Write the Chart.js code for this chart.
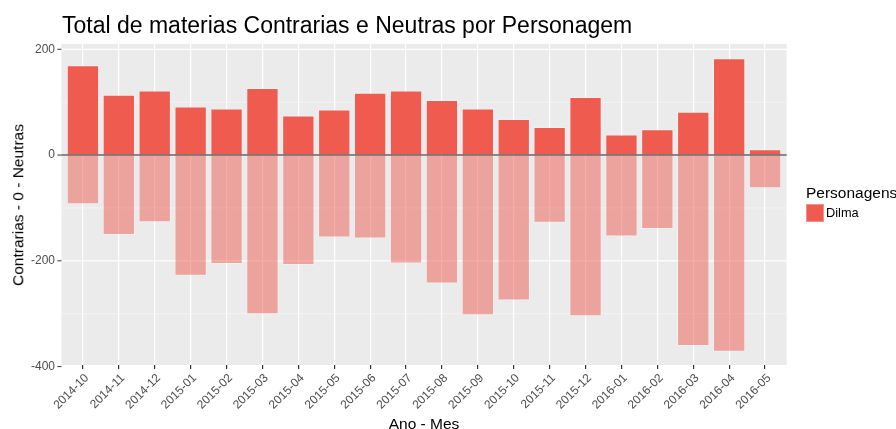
<!DOCTYPE html>
<html>
<head>
<meta charset="utf-8">
<script src="https://cdn.jsdelivr.net/npm/chart.js@4.4.0/dist/chart.umd.min.js"></script>
<style>
  body { margin: 0; background: #fff; font-family: "Liberation Sans", Arial, sans-serif; }
  #wrap { position: relative; width: 896px; height: 429px; overflow: hidden; }
  #grafico { position: absolute; left: 0; top: 0; }
  .titulo { position: absolute; left: 62px; top: 14px; font-size: 23px; line-height: 23px; color: #000; white-space: nowrap; }
  .eixo-y { position: absolute; left: 18px; top: 204.5px; font-size: 15.5px; line-height: 15.5px; color: #000; white-space: nowrap;
            transform: translate(-50%, -50%) rotate(-90deg); }
  .eixo-x { position: absolute; left: 424px; top: 416px; font-size: 15.5px; line-height: 15.5px; color: #000; white-space: nowrap;
            transform: translateX(-50%); }
  .leg-titulo { position: absolute; left: 806px; top: 185px; font-size: 15.5px; line-height: 15.5px; color: #000; white-space: nowrap; }
  .leg-cor { position: absolute; left: 806px; top: 204px; width: 16px; height: 16px; background: #F05B50; border: 0.5px solid #F39088; }
  .leg-texto { position: absolute; left: 826px; top: 207px; font-size: 12.8px; line-height: 12.8px; color: #000; white-space: nowrap; }
</style>
</head>
<body>
<div id="wrap">
  <canvas id="grafico" width="896" height="429"></canvas>
  <div class="titulo">Total de materias Contrarias e Neutras por Personagem</div>
  <div class="eixo-y">Contrarias - 0 - Neutras</div>
  <div class="eixo-x">Ano - Mes</div>
  <div class="leg-titulo">Personagens</div>
  <div class="leg-cor"></div>
  <div class="leg-texto">Dilma</div>
</div>
<script>
// dados
const meses = ['2014-10', '2014-11', '2014-12', '2015-01', '2015-02', '2015-03', '2015-04',
  '2015-05', '2015-06', '2015-07', '2015-08', '2015-09', '2015-10', '2015-11', '2015-12',
  '2016-01', '2016-02', '2016-03', '2016-04', '2016-05'];
const neutras = [170, 114, 122, 92, 88, 127, 75, 86, 118, 122, 104, 88, 68, 53, 110, 39, 49, 82, 183, 11];
const contrarias = [-93, -151, -127, -228, -206, -301, -208, -156, -158, -205, -243, -303, -275, -128, -305, -154, -140, -361, -372, -63];
const marcasY = [-400, -200, 0, 200];           // com rotulo
const gradeY = [-400, -300, -200, -100, 0, 100, 200]; // linhas de grade

// fundo cinza estilo ggplot + grades horizontais + linha do zero
const fundoPainel = {
  id: 'fundoPainel',
  beforeDraw(chart) {
    const { ctx, chartArea: a, scales } = chart;
    const ext = (a.right - a.left) / meses.length * 0.1;
    const esq = a.left - ext, dir = a.right + ext;
    ctx.save();
    ctx.fillStyle = '#EBEBEB';
    ctx.fillRect(esq, a.top, dir - esq, a.bottom - a.top);
    gradeY.forEach(v => {
      const y = scales.y.getPixelForValue(v);
      const principal = marcasY.includes(v);
      ctx.strokeStyle = principal ? '#FFFFFF' : 'rgba(255,255,255,0.7)';
      ctx.lineWidth = principal ? 1.2 : 0.6;
      ctx.beginPath();
      ctx.moveTo(esq, y);
      ctx.lineTo(dir, y);
      ctx.stroke();
      if (principal) {
        ctx.strokeStyle = '#333333';
        ctx.lineWidth = 1;
        ctx.beginPath();
        ctx.moveTo(esq - 4, y);
        ctx.lineTo(esq, y);
        ctx.stroke();
      }
    });
    ctx.restore();
  },
  afterDatasetsDraw(chart) {
    const { ctx, chartArea: a, scales } = chart;
    const ext = (a.right - a.left) / meses.length * 0.1;
    const y0 = scales.y.getPixelForValue(0);
    ctx.save();
    ctx.strokeStyle = 'rgba(0,0,0,0.6)';
    ctx.lineWidth = 1.6;
    ctx.beginPath();
    ctx.moveTo(a.left - ext, y0);
    ctx.lineTo(a.right + ext, y0);
    ctx.stroke();
    ctx.restore();
  }
};

new Chart(document.getElementById('grafico'), {
  type: 'bar',
  data: {
    labels: meses,
    datasets: [
      {
        label: 'Neutras',
        data: neutras,
        backgroundColor: '#F05B50',
        borderColor: 'rgba(255,255,255,0.35)',
        borderWidth: 1,
        borderSkipped: 'start',
        stack: 'dilma'
      },
      {
        label: 'Contrarias',
        data: contrarias,
        backgroundColor: 'rgba(240,91,80,0.5)',
        borderColor: 'rgba(255,255,255,0.3)',
        borderWidth: 1,
        borderSkipped: 'start',
        stack: 'dilma'
      }
    ]
  },
  options: {
    responsive: false,
    animation: false,
    devicePixelRatio: 1,
    layout: { padding: { top: 44, right: 113, left: 0, bottom: 0 } },
    datasets: { bar: { categoryPercentage: 1, barPercentage: 0.9 } },
    plugins: {
      legend: { display: false },
      tooltip: { enabled: false }
    },
    scales: {
      x: {
        stacked: true,
        offset: true,
        border: { display: false },
        grid: { offset: false, color: '#FFFFFF', lineWidth: 1.2, tickColor: '#333333', tickLength: 4 },
        ticks: {
          autoSkip: false,
          minRotation: 45,
          maxRotation: 45,
          padding: 2,
          labelOffset: 4,
          color: '#4D4D4D',
          font: { family: '"Liberation Sans", Arial, sans-serif', size: 12 }
        },
        afterFit(s) { s.height = 64; }
      },
      y: {
        stacked: true,
        min: -397,
        max: 210,
        border: { display: false },
        grid: { display: true, drawOnChartArea: false, drawTicks: false },
        afterBuildTicks(s) { s.ticks = gradeY.map(v => ({ value: v })); },
        ticks: {
          autoSkip: false,
          padding: 10,
          color: '#4D4D4D',
          font: { family: '"Liberation Sans", Arial, sans-serif', size: 12 },
          callback: v => marcasY.includes(v) ? String(v) : ''
        },
        afterFit(s) { s.width = 65; }
      }
    }
  },
  plugins: [fundoPainel]
});
</script>
</body>
</html>
